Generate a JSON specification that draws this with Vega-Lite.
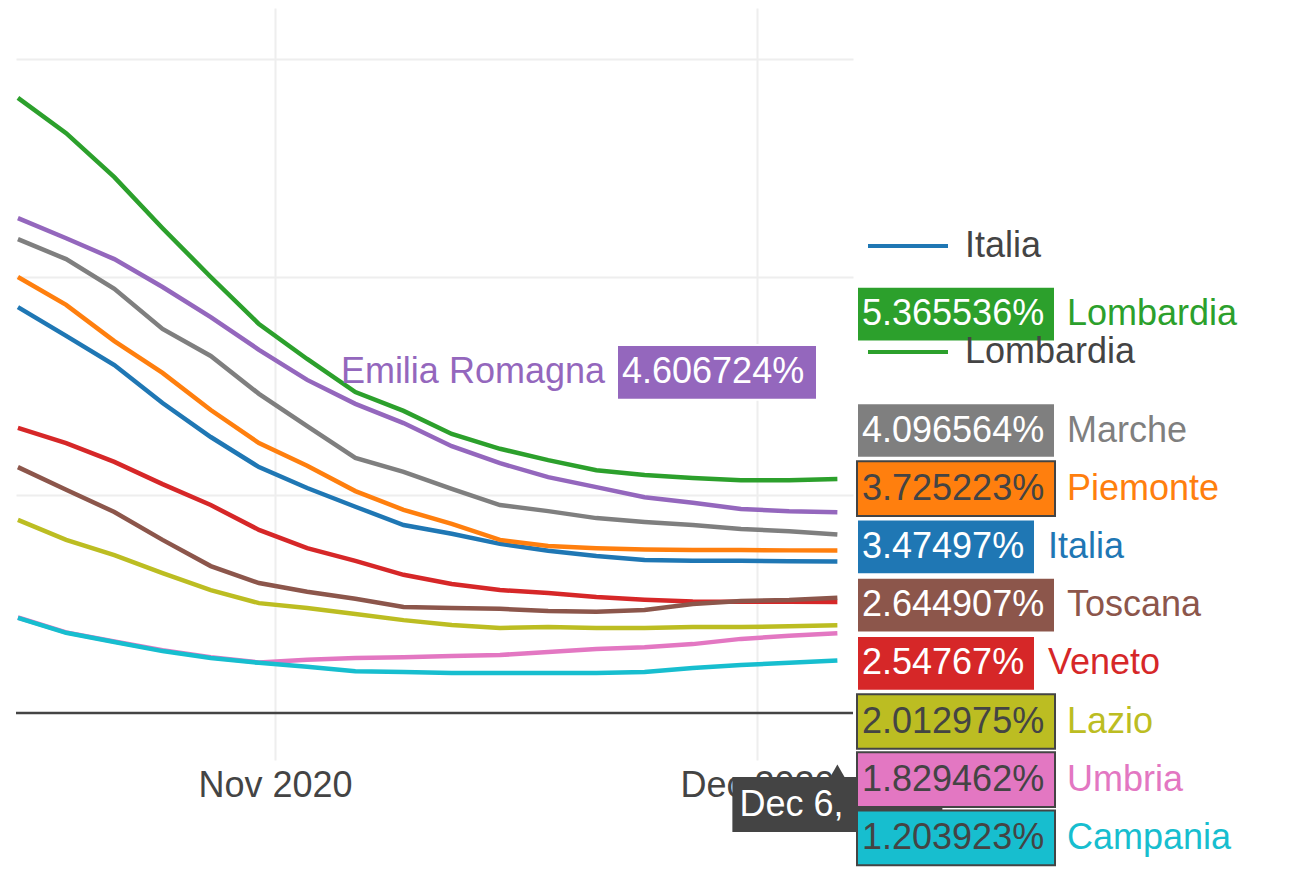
{
  "$schema": "https://vega.github.io/schema/vega-lite/v6.json",
  "width": 837,
  "height": 752,
  "autosize": {"type": "none"},
  "padding": {"left": 16, "top": 8, "right": 436, "bottom": 133},
  "background": "white",
  "config": {"view": {"stroke": null}, "font": "Liberation Sans"},
  "datasets": {
    "series": [
      {"date": "2020-10-16", "Italia": 9.31, "Piemonte": 10.0, "Lombardia": 14.11, "Veneto": 6.54, "Emilia Romagna": 11.35, "Toscana": 5.64, "Umbria": 2.19, "Marche": 10.87, "Lazio": 4.43, "Campania": 2.18},
      {"date": "2020-10-19", "Italia": 8.65, "Piemonte": 9.36, "Lombardia": 13.3, "Veneto": 6.19, "Emilia Romagna": 10.89, "Toscana": 5.12, "Umbria": 1.85, "Marche": 10.41, "Lazio": 3.97, "Campania": 1.84},
      {"date": "2020-10-22", "Italia": 7.98, "Piemonte": 8.53, "Lombardia": 12.29, "Veneto": 5.76, "Emilia Romagna": 10.41, "Toscana": 4.61, "Umbria": 1.64, "Marche": 9.73, "Lazio": 3.62, "Campania": 1.63},
      {"date": "2020-10-25", "Italia": 7.11, "Piemonte": 7.8, "Lombardia": 11.12, "Veneto": 5.25, "Emilia Romagna": 9.77, "Toscana": 3.97, "Umbria": 1.44, "Marche": 8.81, "Lazio": 3.21, "Campania": 1.42},
      {"date": "2020-10-28", "Italia": 6.33, "Piemonte": 6.95, "Lombardia": 10.0, "Veneto": 4.77, "Emilia Romagna": 9.08, "Toscana": 3.37, "Umbria": 1.28, "Marche": 8.19, "Lazio": 2.82, "Campania": 1.26},
      {"date": "2020-10-31", "Italia": 5.64, "Piemonte": 6.19, "Lombardia": 8.92, "Veneto": 4.2, "Emilia Romagna": 8.33, "Toscana": 2.98, "Umbria": 1.16, "Marche": 7.32, "Lazio": 2.52, "Campania": 1.15},
      {"date": "2020-11-03", "Italia": 5.16, "Piemonte": 5.67, "Lombardia": 8.12, "Veneto": 3.78, "Emilia Romagna": 7.64, "Toscana": 2.78, "Umbria": 1.22, "Marche": 6.58, "Lazio": 2.41, "Campania": 1.06},
      {"date": "2020-11-06", "Italia": 4.73, "Piemonte": 5.09, "Lombardia": 7.36, "Veneto": 3.49, "Emilia Romagna": 7.09, "Toscana": 2.62, "Umbria": 1.26, "Marche": 5.85, "Lazio": 2.27, "Campania": 0.96},
      {"date": "2020-11-09", "Italia": 4.31, "Piemonte": 4.66, "Lombardia": 6.93, "Veneto": 3.17, "Emilia Romagna": 6.65, "Toscana": 2.43, "Umbria": 1.28, "Marche": 5.53, "Lazio": 2.13, "Campania": 0.94},
      {"date": "2020-11-12", "Italia": 4.11, "Piemonte": 4.34, "Lombardia": 6.4, "Veneto": 2.96, "Emilia Romagna": 6.12, "Toscana": 2.41, "Umbria": 1.31, "Marche": 5.14, "Lazio": 2.02, "Campania": 0.92},
      {"date": "2020-11-15", "Italia": 3.88, "Piemonte": 3.97, "Lombardia": 6.06, "Veneto": 2.82, "Emilia Romagna": 5.73, "Toscana": 2.39, "Umbria": 1.33, "Marche": 4.77, "Lazio": 1.95, "Campania": 0.92},
      {"date": "2020-11-18", "Italia": 3.72, "Piemonte": 3.83, "Lombardia": 5.8, "Veneto": 2.75, "Emilia Romagna": 5.41, "Toscana": 2.34, "Umbria": 1.4, "Marche": 4.63, "Lazio": 1.97, "Campania": 0.92},
      {"date": "2020-11-21", "Italia": 3.6, "Piemonte": 3.78, "Lombardia": 5.57, "Veneto": 2.66, "Emilia Romagna": 5.18, "Toscana": 2.32, "Umbria": 1.47, "Marche": 4.47, "Lazio": 1.95, "Campania": 0.92},
      {"date": "2020-11-24", "Italia": 3.51, "Piemonte": 3.75, "Lombardia": 5.46, "Veneto": 2.6, "Emilia Romagna": 4.95, "Toscana": 2.36, "Umbria": 1.51, "Marche": 4.38, "Lazio": 1.95, "Campania": 0.94},
      {"date": "2020-11-27", "Italia": 3.49, "Piemonte": 3.74, "Lombardia": 5.39, "Veneto": 2.56, "Emilia Romagna": 4.82, "Toscana": 2.5, "Umbria": 1.58, "Marche": 4.31, "Lazio": 1.97, "Campania": 1.03},
      {"date": "2020-11-30", "Italia": 3.49, "Piemonte": 3.74, "Lombardia": 5.34, "Veneto": 2.55, "Emilia Romagna": 4.68, "Toscana": 2.57, "Umbria": 1.7, "Marche": 4.22, "Lazio": 1.97, "Campania": 1.1},
      {"date": "2020-12-03", "Italia": 3.48, "Piemonte": 3.73, "Lombardia": 5.34, "Veneto": 2.55, "Emilia Romagna": 4.63, "Toscana": 2.59, "Umbria": 1.77, "Marche": 4.17, "Lazio": 1.99, "Campania": 1.15},
      {"date": "2020-12-06", "Italia": 3.47497, "Piemonte": 3.725223, "Lombardia": 5.365536, "Veneto": 2.54767, "Emilia Romagna": 4.606724, "Toscana": 2.644907, "Umbria": 1.829462, "Marche": 4.096564, "Lazio": 2.012975, "Campania": 1.203923}
    ],
    "hover": [
      {"region": "Lombardia", "label": "5.365536%"},
      {"region": "Marche", "label": "4.096564%"},
      {"region": "Piemonte", "label": "3.725223%"},
      {"region": "Toscana", "label": "2.644907%"},
      {"region": "Lazio", "label": "2.012975%"},
      {"region": "Umbria", "label": "1.829462%"},
      {"region": "Campania", "label": "1.203923%"}
    ],
    "hoverShort": [
      {"region": "Italia", "label": "3.47497%"},
      {"region": "Veneto", "label": "2.54767%"}
    ],
    "hoverLeft": [
      {"region": "Emilia Romagna", "label": "4.606724%"}
    ],
    "xhover": [
      {"date": "2020-12-06", "label": "Dec 6, 2020"}
    ]
  },
  "resolve": {"scale": {"x": "independent", "y": "independent"}},
  "layer": [
    {
      "layer": [
        {
          "data": {"values": [{}]},
          "mark": {"type": "rule", "color": "#444444", "strokeWidth": 2.5},
          "encoding": {"y": {"datum": 0, "type": "quantitative"}}
        },
        {
          "data": {"name": "series"},
          "transform": [{"fold": ["Italia", "Piemonte", "Lombardia", "Veneto", "Emilia Romagna", "Toscana", "Umbria", "Marche", "Lazio", "Campania"], "as": ["region", "value"]}],
          "mark": {"type": "line", "strokeWidth": 4.5, "clip": true},
          "encoding": {
            "x": {
              "field": "date", "type": "temporal",
              "scale": {"type": "utc", "domain": [{"year": 2020, "month": 10, "date": 15, "hours": 21, "minutes": 7, "utc": true}, {"year": 2020, "month": 12, "date": 6, "hours": 23, "minutes": 20, "utc": true}]},
              "axis": {"title": null, "values": [{"year": 2020, "month": 11, "date": 1, "utc": true}, {"year": 2020, "month": 12, "date": 1, "utc": true}], "format": "%b %Y", "grid": true, "gridColor": "#eeeeee", "gridWidth": 2, "ticks": false, "domain": false, "labelFontSize": 36, "labelColor": "#444444", "labelPadding": 8}
            },
            "y": {
              "field": "value", "type": "quantitative",
              "scale": {"domain": [-1.078, 16.17], "nice": false, "zero": false},
              "axis": {"title": null, "values": [5, 10, 15], "grid": true, "gridColor": "#eeeeee", "gridWidth": 2, "labels": false, "ticks": false, "domain": false}
            },
            "color": {
              "field": "region", "type": "nominal",
              "scale": {"domain": ["Italia", "Piemonte", "Lombardia", "Veneto", "Emilia Romagna", "Toscana", "Umbria", "Marche", "Lazio", "Campania"], "range": ["#1f77b4", "#ff7f0e", "#2ca02c", "#d62728", "#9467bd", "#8c564b", "#e377c2", "#7f7f7f", "#bcbd22", "#17becf"]},
              "legend": {
                "orient": "none", "legendX": 850, "legendY": 196, "direction": "vertical", "title": null,
                "values": ["Italia", "Lombardia"],
                "symbolType": "stroke", "symbolSize": 6400, "symbolStrokeWidth": 4,
                "labelFontSize": 36, "labelColor": "#444444", "labelOffset": 15, "rowPadding": 46, "padding": 0, "labelLimit": 400
              }
            }
          }
        },
        {
          "data": {"name": "xhover"},
          "mark": {"type": "rect", "width": 210, "height": 55, "color": "#444444"},
          "encoding": {"x": {"field": "date", "type": "temporal"}, "y": {"datum": -2.1, "type": "quantitative"}}
        },
        {
          "data": {"name": "xhover"},
          "mark": {"type": "point", "shape": "triangle-up", "size": 220, "filled": true, "color": "#444444", "opacity": 1},
          "encoding": {"x": {"field": "date", "type": "temporal"}, "y": {"datum": -1.33, "type": "quantitative"}}
        },
        {
          "data": {"name": "xhover"},
          "mark": {"type": "text", "color": "white", "fontSize": 36, "align": "left", "baseline": "middle", "dx": -98, "limit": 112, "ellipsis": "\u200b"},
          "encoding": {"x": {"field": "date", "type": "temporal"}, "y": {"datum": -2.1, "type": "quantitative"}, "text": {"field": "label"}}
        }
      ]
    },
    {
      "data": {"name": "hover"},
      "encoding": {
        "y": {"field": "region", "type": "nominal", "scale": {"type": "band", "domain": ["Lombardia", "Emilia Romagna", "Marche", "Piemonte", "Italia", "Toscana", "Veneto", "Lazio", "Umbria", "Campania"], "range": [277, 859], "paddingInner": 0.06, "paddingOuter": 0.03}, "axis": null}
      },
      "layer": [
        {
          "mark": {"type": "rect", "strokeWidth": 2},
          "encoding": {
            "x": {"datum": "value", "type": "nominal", "scale": {"type": "band", "domain": ["value", "name"], "range": [841, 1249], "paddingInner": 0.0571, "paddingOuter": 0}, "axis": null},
            "color": {"field": "region", "type": "nominal", "legend": null},
            "stroke": {"condition": {"test": "indexof(['Piemonte','Lazio','Umbria','Campania'], datum.region) >= 0", "value": "#444444"}, "value": "white"}
          }
        },
        {
          "mark": {"type": "text", "align": "left", "baseline": "middle", "dx": 5, "fontSize": 36},
          "encoding": {
            "x": {"datum": "value", "type": "nominal", "bandPosition": 0},
            "text": {"field": "label"},
            "color": {"condition": {"test": "indexof(['Piemonte','Lazio','Umbria','Campania'], datum.region) >= 0", "value": "#444444"}, "value": "white"}
          }
        },
        {
          "mark": {"type": "text", "align": "left", "baseline": "middle", "fontSize": 36},
          "encoding": {
            "x": {"datum": "name", "type": "nominal", "bandPosition": 0},
            "text": {"field": "region"},
            "color": {"field": "region", "type": "nominal", "legend": null}
          }
        }
      ]
    },
    {
      "data": {"name": "hoverShort"},
      "encoding": {
        "y": {"field": "region", "type": "nominal", "scale": {"type": "band", "domain": ["Lombardia", "Emilia Romagna", "Marche", "Piemonte", "Italia", "Toscana", "Veneto", "Lazio", "Umbria", "Campania"], "range": [277, 859], "paddingInner": 0.06, "paddingOuter": 0.03}, "axis": null}
      },
      "layer": [
        {
          "mark": {"type": "rect", "strokeWidth": 2, "stroke": "white"},
          "encoding": {
            "x": {"datum": "value", "type": "nominal", "scale": {"type": "band", "domain": ["value", "name"], "range": [841, 1210], "paddingInner": 0.068, "paddingOuter": 0}, "axis": null},
            "color": {"field": "region", "type": "nominal", "legend": null}
          }
        },
        {
          "mark": {"type": "text", "align": "left", "baseline": "middle", "dx": 5, "fontSize": 36, "color": "white"},
          "encoding": {
            "x": {"datum": "value", "type": "nominal", "bandPosition": 0},
            "text": {"field": "label"}
          }
        },
        {
          "mark": {"type": "text", "align": "left", "baseline": "middle", "fontSize": 36},
          "encoding": {
            "x": {"datum": "name", "type": "nominal", "bandPosition": 0},
            "text": {"field": "region"},
            "color": {"field": "region", "type": "nominal", "legend": null}
          }
        }
      ]
    },
    {
      "data": {"name": "hoverLeft"},
      "encoding": {
        "y": {"field": "region", "type": "nominal", "scale": {"type": "band", "domain": ["Lombardia", "Emilia Romagna", "Marche", "Piemonte", "Italia", "Toscana", "Veneto", "Lazio", "Umbria", "Campania"], "range": [277, 859], "paddingInner": 0.06, "paddingOuter": 0.03}, "axis": null}
      },
      "layer": [
        {
          "mark": {"type": "rect", "strokeWidth": 2, "stroke": "white"},
          "encoding": {
            "x": {"datum": "value", "type": "nominal", "scale": {"type": "band", "domain": ["name", "value"], "range": [389, 801], "paddingInner": 0.0566, "paddingOuter": 0}, "axis": null},
            "color": {"field": "region", "type": "nominal", "legend": null}
          }
        },
        {
          "mark": {"type": "text", "align": "left", "baseline": "middle", "dx": 5, "fontSize": 36, "color": "white"},
          "encoding": {
            "x": {"datum": "value", "type": "nominal", "bandPosition": 0},
            "text": {"field": "label"}
          }
        },
        {
          "mark": {"type": "text", "align": "right", "baseline": "middle", "fontSize": 36},
          "encoding": {
            "x": {"datum": "name", "type": "nominal", "bandPosition": 1},
            "text": {"field": "region"},
            "color": {"field": "region", "type": "nominal", "legend": null}
          }
        }
      ]
    }
  ]
}
